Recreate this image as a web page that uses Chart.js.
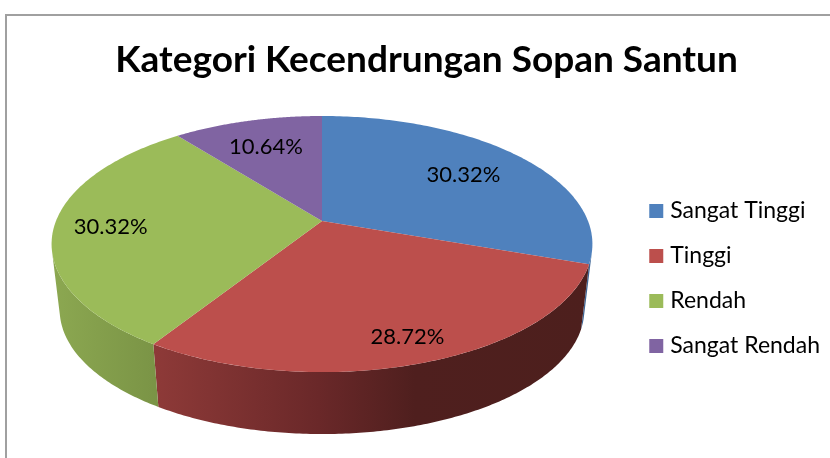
<!DOCTYPE html>
<html><head><meta charset="utf-8">
<style>
html,body{margin:0;padding:0;background:#fff;overflow:hidden;width:830px;height:458px}
#frame{position:absolute;left:5px;top:14px;width:900px;height:600px;border:2px solid #a0a0a0;box-sizing:border-box}
#wrap{position:absolute;left:0;top:0;width:830px;height:458px}
</style>
<script src="https://cdn.jsdelivr.net/npm/chart.js@4"></script>
</head><body>
<div id="frame"></div>
<div id="wrap"><canvas id="c" width="830" height="458"></canvas></div>
<script>
const categories = ["Sangat Tinggi","Tinggi","Rendah","Sangat Rendah"];
const values = [30.32,28.72,30.32,10.64];
const topColors = ["#4F81BD","#BC4F4C","#9BBB59","#8064A2"];
const titleText = "Kategori Kecendrungan Sopan Santun";
const labelReach = [0.70,0.84,0.79,0.72];
const wallStops = [
  [[0,"#3d6595"],[1,"#3d6595"]],
  [[0,"#8e3a38"],[0.38,"#6a2829"],[0.6,"#4f1f1e"],[1,"#4d1f1d"]],
  [[0,"#8ca851"],[1,"#768f43"]],
  [[0,"#64507f"],[1,"#64507f"]]
];
const FONT = "Lato";
const geo = {cx:322, cy:221, R:266, a:123.9, k:0.18, depth:66.5, shrink:0.97};

function proj(phi, f, wall){
  const x=f*Math.cos(phi), y=f*Math.sin(phi), d=1-geo.k*y;
  const X=geo.R*x/d, Y=geo.a*y/d;
  return wall ? [geo.cx+geo.shrink*X, geo.cy+geo.depth+geo.shrink*Y] : [geo.cx+X, geo.cy+Y];
}
function quadArea(q){
  let a=0;
  q.forEach((p,i)=>{const r=q[(i+1)%4];a+=p[0]*r[1]-r[0]*p[1];});
  return a;
}
const pie3d = {
  id:"pie3d",
  beforeDatasetsDraw(chart){
    const ctx=chart.ctx, arcs=chart.getDatasetMeta(0).data;
    // side walls: only the quads that face the viewer, in one path so no seams show
    arcs.forEach((arc,i)=>{
      const s=arc.startAngle,e=arc.endAngle,n=160;
      const t=[],b=[];
      for(let j=0;j<=n;j++){const p=s+(e-s)*j/n;t.push(proj(p,1,false));b.push(proj(p,1,true));}
      const xs=t.concat(b).map(p=>p[0]);
      const g=ctx.createLinearGradient(Math.min(...xs),0,Math.max(...xs),0);
      wallStops[i].forEach(st=>g.addColorStop(st[0],st[1]));
      ctx.beginPath();
      for(let j=0;j<n;j++){
        const q=[t[j],t[j+1],b[j+1],b[j]];
        if(quadArea(q)>=0) continue;
        ctx.moveTo(q[0][0],q[0][1]);
        for(let m=1;m<4;m++) ctx.lineTo(q[m][0],q[m][1]);
        ctx.closePath();
      }
      ctx.fillStyle=g;ctx.fill();
    });
    // top faces
    arcs.forEach((arc,i)=>{
      const s=arc.startAngle,e=arc.endAngle,n=120;
      ctx.beginPath();ctx.moveTo(geo.cx,geo.cy);
      for(let j=0;j<=n;j++){const p=proj(s+(e-s)*j/n,1,false);ctx.lineTo(p[0],p[1]);}
      ctx.closePath();ctx.fillStyle=topColors[i];ctx.fill();
    });
    // value labels
    ctx.fillStyle="#000";ctx.font="22px "+FONT;ctx.textAlign="center";ctx.textBaseline="middle";
    arcs.forEach((arc,i)=>{
      const p=proj((arc.startAngle+arc.endAngle)/2,labelReach[i],false);
      ctx.fillText(values[i].toFixed(2)+"%",p[0],p[1]+1);
    });
    return false;
  },
  afterDraw(chart){
    const ctx=chart.ctx, boxes=chart.legend.legendHitBoxes;
    boxes.forEach((b,i)=>{
      ctx.fillStyle=topColors[i];
      ctx.fillRect(b.left+4.5,b.top+b.height/2-7,14,14);
    });
  }
};
new Chart(document.getElementById("c"),{
  type:"pie",
  data:{labels:categories,datasets:[{data:values,backgroundColor:topColors,borderWidth:0}]},
  plugins:[pie3d],
  options:{
    responsive:false,animation:false,
    layout:{padding:{left:23,top:38,right:0,bottom:-61}},
    plugins:{
      tooltip:{enabled:false},
      title:{display:true,text:titleText,color:"#000",font:{family:FONT,size:37,weight:"bold"},padding:{top:0,bottom:10}},
      legend:{position:"right",labels:{boxWidth:14,boxHeight:14,color:"#000",padding:22,font:{family:FONT,size:23},
        generateLabels(chart){return categories.map((t,i)=>({text:t,fillStyle:"rgba(0,0,0,0)",strokeStyle:"rgba(0,0,0,0)",lineWidth:0,index:i}));}
      }}
    }
  }
});
</script>
</body></html>
